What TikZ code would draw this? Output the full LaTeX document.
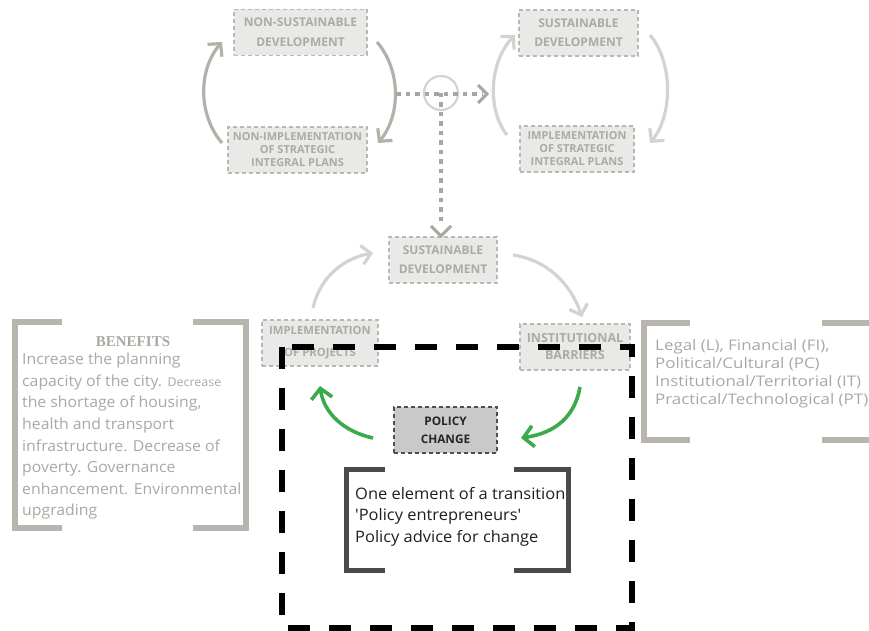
\documentclass[tikz,border=0pt]{standalone}
\usepackage{fontspec}
\setmainfont{Open Sans}
\newfontfamily\titlefont{Liberation Serif}
\newfontfamily\widefont[FakeStretch=1.16]{Open Sans}
\newfontfamily\midfont[FakeStretch=1.04]{Open Sans}
\usetikzlibrary{arrows.meta}

\definecolor{boxfill}{HTML}{E9E9E7}
\definecolor{boxline}{HTML}{B9B9B4}
\definecolor{boxtext}{HTML}{ABABA6}
\definecolor{loopdark}{HTML}{B2B2AA}
\definecolor{looplight}{HTML}{D3D3CF}
\definecolor{dotgrey}{HTML}{A6A6A2}
\definecolor{brackgrey}{HTML}{B7B5AE}
\definecolor{softtext}{HTML}{A9A8A2}
\definecolor{pcfill}{HTML}{C9C9C9}
\definecolor{pcline}{HTML}{4F4F4F}
\definecolor{darkbrack}{HTML}{4A4A4A}
\definecolor{arrowgreen}{HTML}{3AAA4A}

\tikzset{
  gbox/.style={draw=boxline, fill=boxfill, text=boxtext, dash pattern=on 4pt off 3pt,
    line width=1.6pt, align=center, inner sep=0pt, minimum height=46pt,
    font=\fontsize{11}{13}\selectfont\bfseries},
  pcbox/.style={gbox, draw=pcline, fill=pcfill, text=black!85,
    font=\fontsize{11.8}{18}\selectfont\bfseries},
  loopdarkarr/.style={draw=loopdark, line width=3.2pt,
    -{Straight Barb[length=9pt,width=19pt,line width=3.2pt]}},
  looplightarr/.style={draw=looplight, line width=3.2pt,
    -{Straight Barb[length=9pt,width=19pt,line width=3.2pt]}},
  greenarr/.style={draw=arrowgreen, line width=3.6pt,
    -{Straight Barb[length=10pt,width=21pt,line width=3.6pt]}},
  dotline/.style={draw=dotgrey, line width=4.5pt, dash pattern=on 4.5pt off 5pt},
  dotarr/.style={draw=dotgrey, line width=3pt},
  brackpath/.style={draw=brackgrey, line width=6pt},
  darkbrackpath/.style={draw=darkbrack, line width=5pt},
  focusline/.style={draw=black, line width=5.5pt, dash pattern=on 22pt off 19pt},
  softblock/.style={text=softtext, align=left, anchor=north west, inner sep=0pt},
}

\begin{document}
\begin{tikzpicture}[x=1pt,y=-1pt]
\useasboundingbox (0,0) rectangle (869,631);

% --- upper left loop: non-sustainable path
\node[gbox, minimum width=133pt, font=\fontsize{12}{20}\selectfont\bfseries] (nsd) at (300.5,32.5)
  {NON-SUSTAINABLE\\DEVELOPMENT};
\node[gbox, minimum width=139pt] (nis) at (297.5,150)
  {NON-IMPLEMENTATION\\OF STRATEGIC\\INTEGRAL PLANS};
\coordinate (nlA) at (222,143);
\coordinate (nlB) at (222,42);
\coordinate (nrA) at (377,42);
\coordinate (nrB) at (378,143);
\draw[loopdarkarr] (nlA) .. controls (198,115) and (198,70) .. (nlB);
\draw[loopdarkarr] (nrA) .. controls (401,70) and (401,115) .. (nrB);

% --- upper right loop: sustainable path
\node[gbox, minimum width=119pt, font=\fontsize{12}{19}\selectfont\bfseries] (sdt) at (578.5,33)
  {SUSTAINABLE\\DEVELOPMENT};
\node[gbox, minimum width=114pt] (isp) at (577,149)
  {IMPLEMENTATION\\OF STRATEGIC\\INTEGRAL PLANS};
\coordinate (slA) at (507,135);
\coordinate (slB) at (515,35);
\coordinate (srA) at (650,35);
\coordinate (srB) at (650,143);
\draw[looplightarr] (slA) .. controls (487,110) and (489,62) .. (slB);
\draw[looplightarr] (srA) .. controls (673,62) and (673,115) .. (srB);

% --- junction and dotted links
\node[circle, draw=looplight, line width=2.2pt, minimum size=34pt, inner sep=0pt] (hub) at (441,93) {};
\coordinate (dotL) at (396,94);
\coordinate (dotR) at (483,94);
\draw[dotline] (dotL) -- (dotR);
\draw[dotline] (hub.center) -- (441,225);
\draw[dotarr] (478,85) -- (487,94) -- (478,103);

% --- central cycle
\node[gbox, minimum width=108pt, font=\fontsize{12}{19}\selectfont\bfseries] (sdc) at (443,260)
  {SUSTAINABLE\\DEVELOPMENT};
\draw[dotarr] (431,226) -- (441,236) -- (451,226);
\node[gbox, minimum width=116pt, font=\fontsize{11.3}{22}\selectfont\bfseries] (ipr) at (320,343)
  {IMPLEMENTATION\\OF PROJECTS};
\node[gbox, minimum width=110pt, font=\fontsize{12.5}{17}\selectfont\bfseries] (ibr) at (575,347)
  {INSTITUTIONAL\\BARRIERS};
\coordinate (cA) at (313,308);
\coordinate (cB) at (373,253);
\coordinate (cC) at (513,255);
\coordinate (cD) at (582,317);
\draw[looplightarr] (cA) .. controls (320,276) and (345,258) .. (cB);
\draw[looplightarr] (cC) .. controls (546,260) and (570,282) .. (cD);

% --- focus frame
\draw[focusline] (282,347) rectangle (632,628);

% --- policy change
\node[pcbox, minimum width=103pt] (pcb) at (445.5,430) {POLICY\\CHANGE};
\coordinate (gA) at (373,438);
\coordinate (gB) at (320,386);
\coordinate (gC) at (580,387);
\coordinate (gD) at (521,438);
\draw[greenarr] (gA) .. controls (345,432) and (324,414) .. (gB);
\draw[greenarr] (gC) .. controls (575,416) and (556,433) .. (gD);

\draw[darkbrackpath] (385,469) -- (346,469) -- (346,570) -- (385,570);
\draw[darkbrackpath] (514,469) -- (568,469) -- (568,570) -- (514,570);
\node[softblock, text=black!88, font=\midfont\fontsize{15.8}{21.5}\selectfont] (pcnote) at (355,487)
  {One element of a transition\\'Policy entrepreneurs'\\Policy advice for change};

% --- benefits
\draw[brackpath] (62,322) -- (15,322) -- (15,528) -- (62,528);
\draw[brackpath] (193,322) -- (246,322) -- (246,528) -- (193,528);
\node[text=softtext, font=\titlefont\fontsize{15}{15}\selectfont\bfseries] (bentitle) at (133,342) {BENEFITS};
\node[softblock, font=\midfont\fontsize{15.2}{21.6}\selectfont] (bentext) at (22,353)
  {Increase the planning\\capacity of the city. {\fontsize{12}{21.6}\selectfont Decrease}\\the shortage of housing,\\health and transport\\infrastructure. Decrease of\\poverty. Governance\\enhancement. Environmental\\upgrading};

% --- barriers (right side of the bracket runs past the edge)
\draw[brackpath] (690,323) -- (644,323) -- (644,440) -- (690,440);
\draw[brackpath] (822,323) -- (875,323) -- (875,440) -- (822,440);
\node[softblock, font=\widefont\fontsize{14.6}{18.2}\selectfont] (bartext) at (655,339)
  {Legal (L), Financial (FI),\\Political/Cultural (PC)\\Institutional/Territorial (IT)\\Practical/Technological (PT)};

\end{tikzpicture}
\end{document}
